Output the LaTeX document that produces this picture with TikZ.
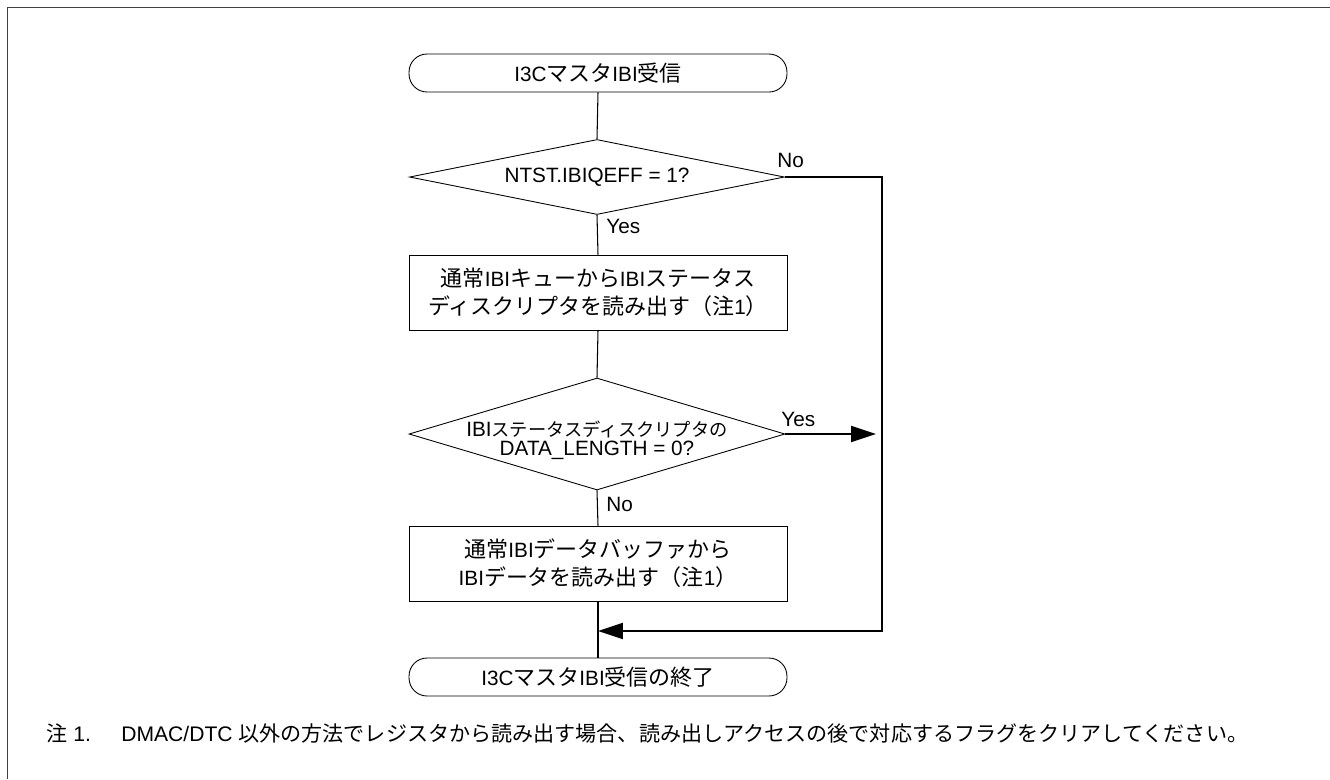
\documentclass[tikz,border=0pt]{standalone}
\usepackage{fontspec}
\setmainfont{Liberation Sans}
\newfontfamily\jp[Scale=1.06]{Noto Sans CJK JP}
\newfontfamily\jpd[Scale=0.88]{Noto Sans CJK JP}
\newfontfamily\jpn{Noto Sans CJK JP}
\usepackage{tikz}
\usetikzlibrary{positioning,shapes.geometric,arrows.meta}

\tikzset{
  terminal/.style={draw, line width=0.5pt, rounded corners=0.36cm, minimum width=7.56cm, minimum height=0.76cm, inner sep=0pt},
  process/.style={draw, line width=0.5pt, minimum width=7.56cm, minimum height=1.5cm, inner sep=0pt, align=center},
  decision/.style={draw, diamond, line width=0.5pt, inner sep=0pt},
  flow/.style={line width=0.6pt},
  loopline/.style={line width=1.1pt},
  answer/.style={anchor=west, inner sep=0pt},
  notetext/.style={anchor=west, inner sep=0pt, font=\fontsize{12}{14}\selectfont}
}

\begin{document}
\begin{tikzpicture}[x=0.02cm, y=-0.02cm, font=\fontsize{11.8}{16}\selectfont, >={Triangle[length=0.5cm,width=0.32cm]}]
\useasboundingbox (0,0) rectangle (1330,779);
% frame
\draw [black!75, line width=1pt] (7.5,779) -- (7.5,7.5) -- (1330,7.5);

% flow chart
\node [terminal] (start) at (598,73) {I3C{\jp マスタ}IBI{\jp 受信}};
\node [decision, minimum width=7.5cm, minimum height=1.5cm,
       label={center:NTST.IBIQEFF = 1?}] (dec1) at (597,177) {};
\node [process] (box1) at (598,292.5) {{\jp 通常}IBI{\jp キューから}IBI{\jp ステータス}\\{\jp ディスクリプタを読み出す（注}1{\jp ）}};
\node [decision, minimum width=7.52cm, minimum height=2.24cm,
       label={[align=center, yshift=-0.13cm, font=\fontsize{11.8}{11}\selectfont]center:IBI{\jpd ステータスディスクリプタの}\\DATA\_LENGTH = 0?}] (dec2) at (597,434) {};
\node [process] (box2) at (598,563.5) {{\jp 通常}IBI{\jp データバッファから}\\IBI{\jp データを読み出す（注}1{\jp ）}};
\node [terminal] (stop) at (598,677) {I3C{\jp マスタ}IBI{\jp 受信の終了}};

\foreach \a/\b in {start/dec1, dec1/box1, box1/dec2, dec2/box2, box2/stop}
  \draw [flow] (\a.south) -- (\b.north);

\coordinate (back) at (882,631);
\coordinate (merge) at (598,631);
\coordinate (yesend) at (876,434);
\draw [loopline, ->] (dec1.east) -| (back) -- (merge);
\draw [loopline, ->] (dec2.east) -- (yesend);

\node [answer] (no1) at (777,160) {No};
\node [answer] (yes1) at (606,226) {Yes};
\node [answer] (yes2) at (781,419) {Yes};
\node [answer] (no2) at (606,504) {No};

% note
\node [notetext] (notemark) at (46,733) {{\jpn 注} 1.};
\node [notetext] (notebody) at (121,733) {DMAC/DTC {\jpn 以外の方法でレジスタから読み出す場合、読み出しアクセスの後で対応するフラグをクリアしてください。}};
\end{tikzpicture}
\end{document}
